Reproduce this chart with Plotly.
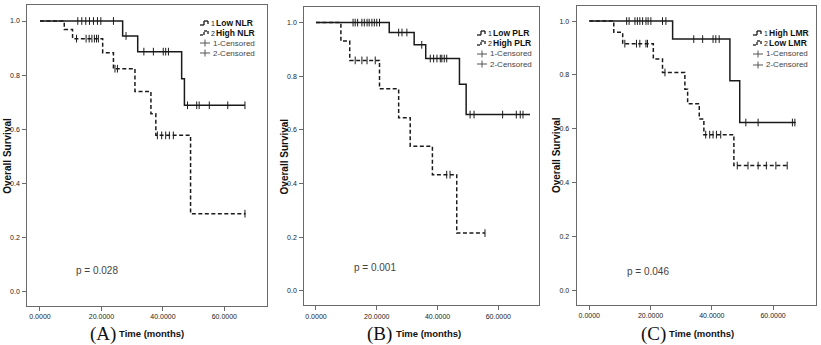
import plotly.graph_objects as go

W, H = 821, 345

# ---------------- data ----------------
# Panel A: NLR
A_low_t = [0, 26.9, 31.8, 46.1, 47.0, 66.7]
A_low_s = [1.0, 0.945, 0.887, 0.787, 0.689, 0.689]
A_low_c = [12.3, 13.6, 14.9, 16.1, 17.4, 18.7, 19.8, 23.9, 28.0, 33.8, 36.9, 40.1, 40.9,
           41.8, 48.0, 51.0, 51.8, 55.1, 61.1, 66.7]
A_high_t = [0, 7.9, 10.6, 20.4, 23.9, 30.9, 36.1, 37.7, 49.0, 66.9]
A_high_s = [1.0, 0.969, 0.935, 0.883, 0.824, 0.740, 0.658, 0.578, 0.289, 0.289]
A_high_c = [11.9, 15.0, 16.0, 16.9, 17.7, 18.4, 19.0, 24.4, 25.2, 38.2, 39.6, 40.9, 42.1,
            43.4, 66.7]

# Panel B: PLR
B_low_t = [0, 24.1, 32.3, 36.1, 47.2, 49.4, 70.4]
B_low_s = [1.0, 0.963, 0.917, 0.866, 0.770, 0.657, 0.657]
B_low_c = [12.2, 12.9, 13.7, 15.1, 15.9, 16.8, 17.5, 18.4, 19.2, 20.0, 20.9, 27.2, 28.3,
           29.9, 34.8, 37.6, 38.7, 39.8, 40.9, 41.4, 42.2, 43.0, 50.7, 52.0, 61.4, 65.9,
           67.2, 68.1]
B_high_t = [0, 8.2, 11.1, 20.9, 27.2, 31.0, 38.3, 46.3, 55.6]
B_high_s = [1.0, 0.931, 0.859, 0.753, 0.645, 0.539, 0.433, 0.215, 0.215]
B_high_c = [12.9, 15.1, 16.8, 19.5, 43.0, 44.1, 55.6]

# Panel C: LMR
C_high_t = [0, 27.2, 45.9, 49.1, 67.4]
C_high_s = [1.0, 0.933, 0.778, 0.623, 0.623]
C_high_c = [12.2, 13.0, 14.9, 15.7, 16.5, 17.4, 18.5, 19.2, 20.1, 23.9, 25.0, 34.1, 37.0,
            40.4, 41.3, 42.4, 51.1, 55.1, 66.3, 67.1]
C_low_t = [0, 8.0, 10.9, 20.9, 23.9, 31.2, 32.1, 35.9, 37.4, 47.2, 65.2]
C_low_s = [1.0, 0.958, 0.916, 0.859, 0.809, 0.747, 0.693, 0.636, 0.578, 0.463, 0.463]
C_low_c = [11.6, 15.4, 16.5, 18.5, 19.0, 24.7, 38.0, 39.3, 40.4, 41.5, 42.9, 48.3, 51.8,
           55.1, 57.8, 60.9, 64.6]

x_ticks = [0, 20, 40, 60]
x_tick_labels = ["0.0000", "20.0000", "40.0000", "60.0000"]
y_ticks = [0.0, 0.2, 0.4, 0.6, 0.8, 1.0]
y_tick_labels = ["0.0", "0.2", "0.4", "0.6", "0.8", "1.0"]

legend_labels = [["Low NLR", "High NLR"], ["Low PLR", "High PLR"], ["High LMR", "Low LMR"]]
p_values = ["p = 0.028", "p = 0.001", "p = 0.046"]
panel_letters = ["(A)", "(B)", "(C)"]

# ---------------- layout geometry (pixels) ----------------
panels = [
    dict(frame=(27.3, 267.3, 5.3, 305.7), xr=(-4.13, 73.97), yr=(-0.0506, 1.058),
         curves=[(A_low_t, A_low_s, A_low_c, "solid"), (A_high_t, A_high_s, A_high_c, "dash")],
         leg_y=[23, 33, 43, 53], leg_x=200, p=(18.7, 0.081), bottom=(88, 117)),
    dict(frame=(304.3, 538.5, 7.3, 305.0), xr=(-3.84, 73.2), yr=(-0.053, 1.057),
         curves=[(B_low_t, B_low_s, B_low_c, "solid"), (B_high_t, B_high_s, B_high_c, "dash")],
         leg_y=[33, 43, 54, 64], leg_x=477, p=(19.5, 0.085), bottom=(365, 394)),
    dict(frame=(576.7, 816.0, 6.0, 304.7), xr=(-4.11, 74.0), yr=(-0.054, 1.056),
         curves=[(C_high_t, C_high_s, C_high_c, "solid"), (C_low_t, C_low_s, C_low_c, "dash")],
         leg_y=[33, 43, 54, 65], leg_x=753, p=(19.0, 0.068), bottom=(639, 667)),
]


def px(x):
    return x / W


def py(y):
    return 1 - y / H


def step_at(ts, ss, t):
    v = ss[0]
    for ti, si in zip(ts, ss):
        if ti <= t:
            v = si
    return v


fig = go.Figure()
annotations = []
shapes = []
LINE = "#1a1a1a"
FRAME = "#6a6a6a"
TXT = "#222222"

for i, pn in enumerate(panels):
    sfx = "" if i == 0 else str(i + 1)
    xa, ya = "x" + sfx, "y" + sfx
    for (ts, ss, cs, dash) in pn["curves"]:
        fig.add_trace(go.Scatter(
            x=ts, y=ss, mode="lines", line_shape="hv", xaxis=xa, yaxis=ya,
            line=dict(color=LINE, width=1.5, dash="solid" if dash == "solid" else "4px,2.5px"),
            showlegend=False, hoverinfo="skip"))
        fig.add_trace(go.Scatter(
            x=cs, y=[step_at(ts, ss, c) for c in cs], mode="markers", xaxis=xa, yaxis=ya,
            marker=dict(symbol="line-ns-open", size=5.5, color=LINE,
                        line=dict(color=LINE, width=1)),
            showlegend=False, hoverinfo="skip"))
    l, r, t, b = pn["frame"]
    axx = dict(domain=[px(l), px(r)], range=list(pn["xr"]), tickvals=x_ticks,
               ticktext=x_tick_labels, ticks="outside", ticklen=4, tickwidth=1,
               tickcolor=FRAME, showline=True, linecolor=FRAME, linewidth=1.2, mirror=True,
               showgrid=False, zeroline=False, anchor=ya,
               tickfont=dict(family="Liberation Sans", size=7, color=TXT))
    axy = dict(domain=[py(b), py(t)], range=list(pn["yr"]), tickvals=y_ticks,
               ticktext=y_tick_labels, ticks="outside", ticklen=4, tickwidth=1,
               tickcolor=FRAME, showline=True, linecolor=FRAME, linewidth=1.2, mirror=True,
               showgrid=False, zeroline=False, anchor=xa, ticklabelstandoff=1,
               tickfont=dict(family="Liberation Sans", size=7, color=TXT))
    fig.layout["xaxis" + sfx] = axx
    fig.layout["yaxis" + sfx] = axy

    # y-axis title
    annotations.append(dict(x=px(l - 20), y=py((t + b) / 2), xref="paper", yref="paper",
                            text="<b>Overall Survival</b>", textangle=-90, showarrow=False,
                            font=dict(family="Liberation Sans", size=10, color="#111"),
                            xanchor="center", yanchor="middle"))
    # p-value
    annotations.append(dict(x=pn["p"][0], y=pn["p"][1], xref=xa, yref=ya, text=p_values[i],
                            showarrow=False, font=dict(family="Liberation Sans", size=10,
                                                       color="#444"),
                            xanchor="center", yanchor="middle"))
    # bottom labels
    bx, tx = pn["bottom"]
    annotations.append(dict(x=px(bx), y=py(334), xref="paper", yref="paper",
                            text=panel_letters[i], showarrow=False,
                            font=dict(family="Liberation Serif", size=19, color="#111"),
                            xanchor="left", yanchor="middle"))
    annotations.append(dict(x=px(tx), y=py(333), xref="paper", yref="paper",
                            text="<b>Time (months)</b>", showarrow=False,
                            font=dict(family="Liberation Sans", size=9.5, color="#111"),
                            xanchor="left", yanchor="middle"))

    # legend
    lx = pn["leg_x"]
    ly = pn["leg_y"]
    for k in range(2):
        yy = ly[k]
        dash = "solid" if k == 0 else "dot"
        pts = [(lx, yy + 2), (lx + 4, yy + 2), (lx + 4, yy - 2), (lx + 8, yy - 2),
               (lx + 8, yy + 1)]
        for (x0, y0), (x1, y1) in zip(pts[:-1], pts[1:]):
            shapes.append(dict(type="line", xref="paper", yref="paper", x0=px(x0),
                               y0=py(y0), x1=px(x1), y1=py(y1),
                               line=dict(color=LINE, width=1.3, dash=dash)))
        annotations.append(dict(x=px(lx + 9), y=py(yy + 0.5), xref="paper", yref="paper",
                                text=str(k + 1), showarrow=False,
                                font=dict(family="Liberation Sans", size=7, color=TXT),
                                xanchor="left", yanchor="middle"))
        annotations.append(dict(x=px(lx + 14), y=py(yy), xref="paper", yref="paper",
                                text="<b>" + legend_labels[i][k] + "</b>", showarrow=False,
                                font=dict(family="Liberation Sans", size=8.5, color="#111"),
                                xanchor="left", yanchor="middle"))
    for k in range(2):
        yy = ly[2 + k]
        shapes.append(dict(type="line", xref="paper", yref="paper", x0=px(lx), y0=py(yy),
                           x1=px(lx + 10), y1=py(yy), line=dict(color="#555", width=1)))
        shapes.append(dict(type="line", xref="paper", yref="paper", x0=px(lx + 5),
                           y0=py(yy - 3.5), x1=px(lx + 5), y1=py(yy + 3.5),
                           line=dict(color="#555", width=1)))
        annotations.append(dict(x=px(lx + 11), y=py(yy), xref="paper", yref="paper",
                                text=f"{k + 1}-Censored", showarrow=False,
                                font=dict(family="Liberation Sans", size=8, color="#444"),
                                xanchor="left", yanchor="middle"))

fig.update_layout(width=W, height=H, autosize=False, margin=dict(l=0, r=0, t=0, b=0),
                  paper_bgcolor="white", plot_bgcolor="white", showlegend=False,
                  annotations=annotations, shapes=shapes)

fig.write_html("out.html", config={"displayModeBar": False},
               post_script="document.body.style.margin='0';"
                           "document.body.style.overflow='hidden';")
